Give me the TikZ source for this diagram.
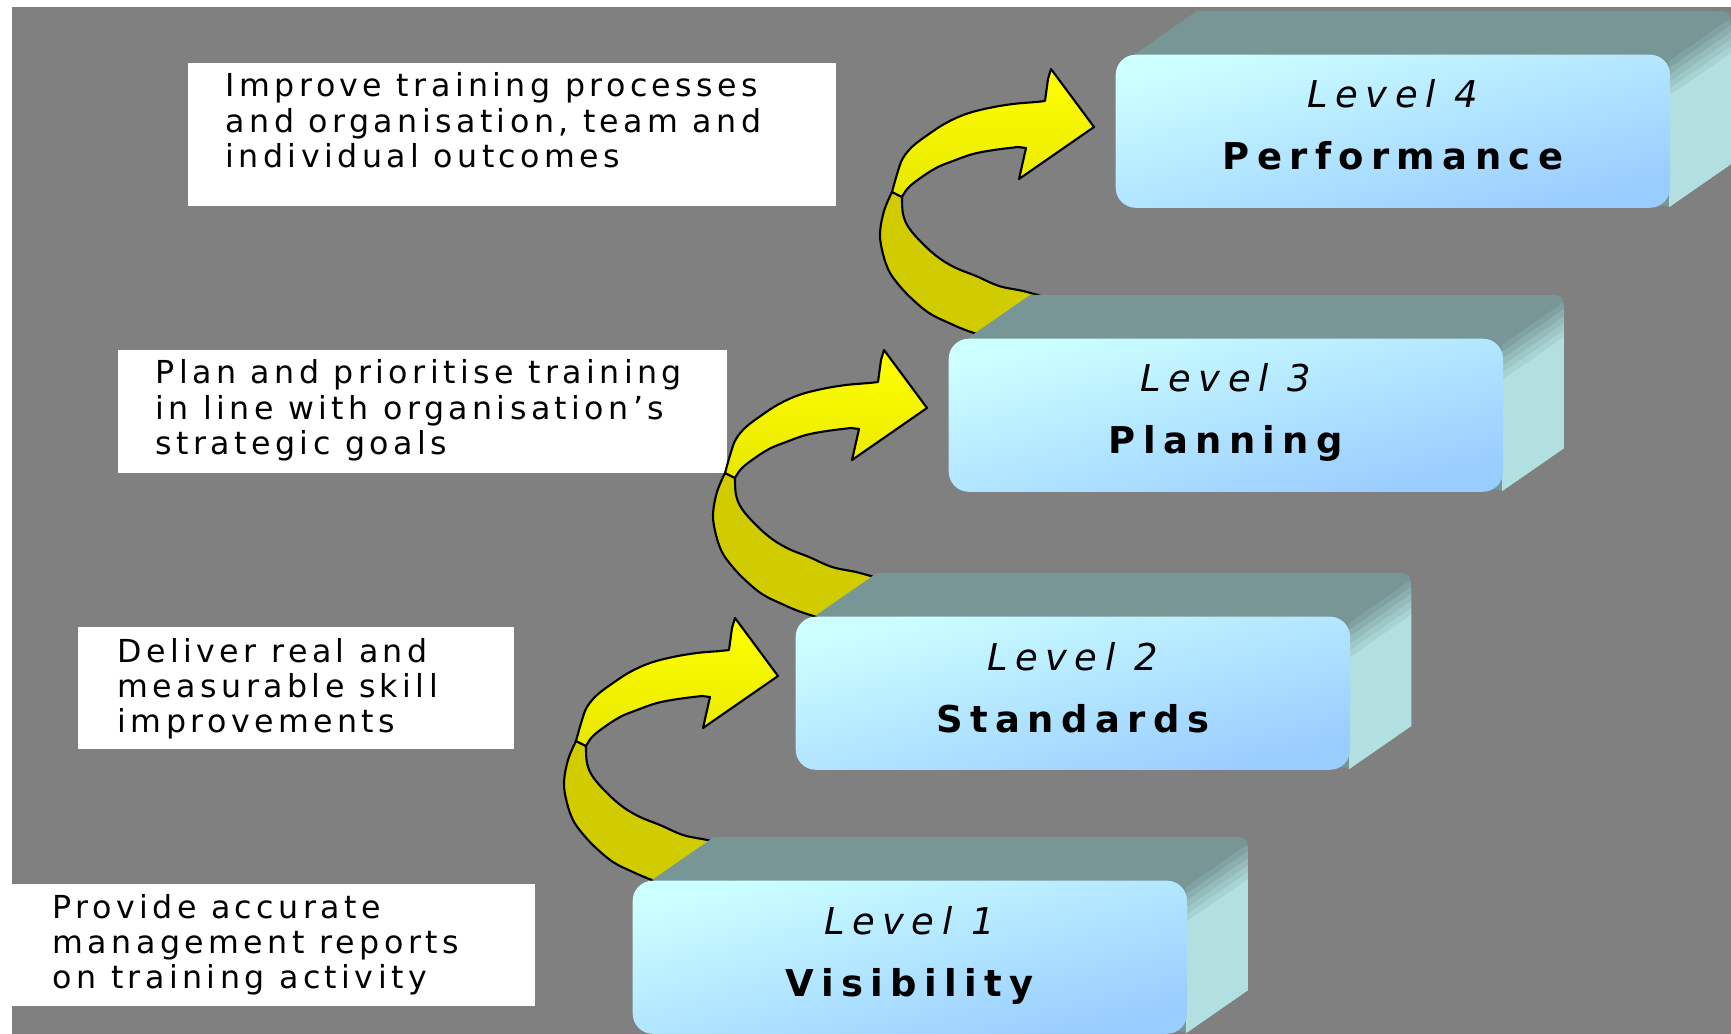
\documentclass[tikz,border=0pt]{standalone}
\usepackage{fontspec}
\usepackage{tikz}
\usetikzlibrary{positioning}

\newfontfamily\notefont[LetterSpace=14]{DejaVu Sans}
\newfontfamily\levelfont[LetterSpace=20]{DejaVu Sans}
\newfontfamily\titlefont[LetterSpace=20]{DejaVu Sans}

\definecolor{bggray}{RGB}{128,128,128}
\definecolor{topcol}{RGB}{120,150,150}
\definecolor{sidecol}{RGB}{178,224,224}
\definecolor{faceA}{RGB}{204,255,255}
\definecolor{faceB}{RGB}{153,204,255}
\definecolor{yelA}{RGB}{255,255,0}
\definecolor{yelB}{RGB}{232,232,0}
\definecolor{yelD}{RGB}{208,204,0}

\begin{document}
\begin{tikzpicture}[
    x=0.01cm, y=-0.01cm,
    notebox/.style={fill=white, inner sep=0pt, anchor=north west},
    note/.style={inner sep=0pt, anchor=base west, font=\notefont\fontsize{9}{9.96}\selectfont},
    levelface/.style={shade, top color=faceA, bottom color=faceB, shading angle=15,
        rounded corners=0.2cm, minimum width=5.54cm, minimum height=1.53cm,
        inner sep=0pt, anchor=north west},
    levelno/.style={anchor=base, inner sep=0pt, font=\levelfont\itshape\fontsize{10.5}{12}\selectfont},
    leveltitle/.style={anchor=base, inner sep=0pt, font=\titlefont\bfseries\fontsize{10.5}{12}\selectfont},
    ribbon/.style={draw=black, line width=0.6pt, line join=round}
]
\useasboundingbox (0,0) rectangle (1731,1034);
\fill[white] (0,0) rectangle (1731,1034);
\fill[bggray] (12,7) rectangle (1731,1034);

% white notes on the left
\node[notebox, minimum width=6.48cm, minimum height=1.43cm] (b4) at (187,62) {};
\node[notebox, minimum width=6.09cm, minimum height=1.23cm] (b3) at (117,349) {};
\node[notebox, minimum width=4.36cm, minimum height=1.22cm] (b2) at (77,626) {};
\node[notebox, minimum width=5.34cm, minimum height=1.22cm] (b1) at (0,883) {};

\node[note] (t4) at ([shift={(38,35)}]b4.north west)
    {\parbox[t]{7cm}{Improve training processes\\and organisation, team and\\individual outcomes}};
\node[note] (t3) at ([shift={(38,35)}]b3.north west)
    {\parbox[t]{7cm}{Plan and prioritise training\\in line with organisation’s\\strategic goals}};
\node[note] (t2) at ([shift={(40,36)}]b2.north west)
    {\parbox[t]{7cm}{Deliver real and\\measurable skill\\improvements}};
\node[note] (t1) at ([shift={(52,35)}]b1.north west)
    {\parbox[t]{7cm}{Provide accurate\\management reports\\on training activity}};

% curved yellow arrows, tails run under the next block
\foreach \dx/\dy in {0/0, 149/-268, 316/-549} {
  \begin{scope}[shift={(\dx,\dy)}]
    \filldraw[ribbon, fill=yelD]
      plot[smooth, tension=0.6] coordinates {(576,741) (568,760) (564,783) (567,803) (573,820)
        (582,833) (595,847) (613,862) (633,872) (652,880) (672,886) (690,890)}
      -- (745,848)
      -- plot[smooth, tension=0.6] coordinates {(725,845) (707,840) (683,835) (660,825) (640,817)
        (623,807) (607,793) (593,777) (587,763) (586,746)} -- cycle;
    \path[ribbon, top color=yelA, bottom color=yelB]
      plot[smooth, tension=0.6] coordinates {(576,741) (582,720) (587,707) (597,695) (613,683)
        (630,672) (650,663) (673,657) (697,653) (720,651) (729,650)}
      -- (732,628) -- (735,618) -- (778,676) -- (703,728) -- (710,697)
      -- plot[smooth, tension=0.6] coordinates {(702,696) (678,699) (657,703) (637,710) (620,717)
        (603,728) (592,737) (586,746)} -- cycle;
  \end{scope}
}

% the four level blocks
\foreach \n/\x/\y/\ttl in {1/632/880/Visibility, 2/795/616/Standards,
                           3/948/338/Planning, 4/1115/54/Performance} {
  \fill[topcol] (\x+20,\y) -- (\x+82,\y-43) -- (\x+596,\y-43)
    .. controls (\x+616,\y-43) .. (\x+616,\y-23) -- (\x+616,\y+110) -- (\x+554,\y+153) -- cycle;
  % side face, banded from the top colour down to the side colour
  \begin{scope}
    \clip (\x+554,\y) -- (\x+611,\y-38) .. controls (\x+616,\y-35) .. (\x+616,\y-23)
      -- (\x+616,\y+110) -- (\x+554,\y+153) -- cycle;
    \foreach \k [evaluate=\k as \pc using int(\k*100/6)] in {0,...,6}
      \fill[sidecol!\pc!topcol] (\x+554,\y+\k*7) -- (\x+616,\y-43+\k*7)
        -- (\x+616,\y+160) -- (\x+554,\y+160) -- cycle;
  \end{scope}
  \node[levelface] (L\n) at (\x,\y) {};
  \node[levelno] (no\n) at ([shift={(0,54)}]L\n.north) {Level \n};
  \node[leveltitle] (name\n) at ([shift={(0,116)}]L\n.north) {\ttl};
}
\end{tikzpicture}
\end{document}
